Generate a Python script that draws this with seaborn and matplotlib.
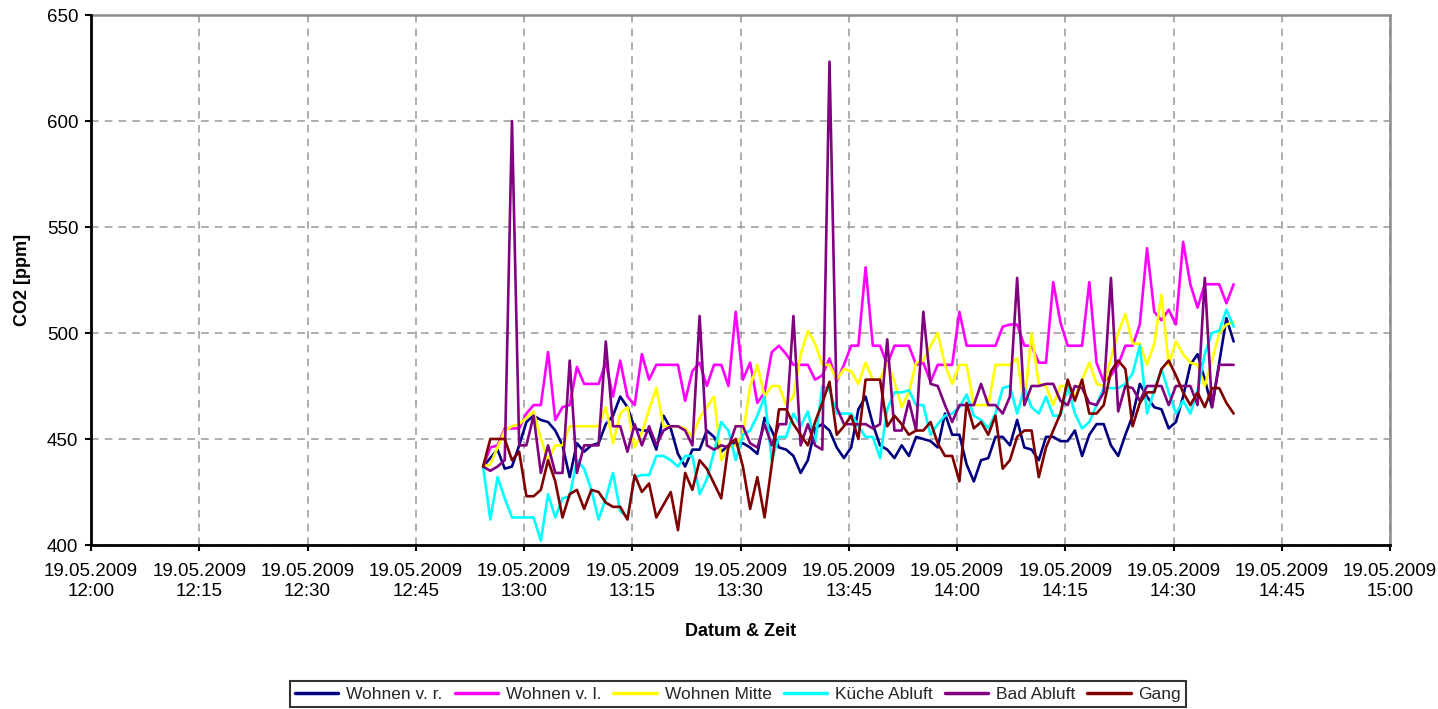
import numpy as np
import pandas as pd
import matplotlib
matplotlib.use("Agg")
import matplotlib.pyplot as plt
import matplotlib.dates as mdates
import seaborn as sns

# ---- data (one reading per minute, starting 19.05.2009 12:54:20) ----
start_time = "2009-05-19 12:54:20"

wohnen_vr = [437, 441, 445, 436, 437, 447, 458, 461, 459, 458, 454, 447, 432, 448, 444, 447, 448, 457, 461, 470,
             465, 455, 454, 454, 445, 461, 455, 443, 437, 445, 445, 454, 451, 444, 447, 448, 448, 446, 443, 460,
             454, 446, 445, 442, 434, 440, 455, 457, 454, 446, 441, 446, 464, 470, 457, 447, 445, 441, 447, 442,
             451, 450, 449, 446, 462, 452, 452, 438, 430, 440, 441, 451, 451, 447, 459, 446, 445, 440, 451, 451,
             449, 449, 454, 442, 452, 457, 457, 447, 442, 452, 461, 476, 470, 465, 464, 455, 458, 470, 485, 490,
             478, 465, 486, 507, 496]

wohnen_vl = [437, 446, 447, 455, 455, 455, 462, 466, 466, 491, 459, 465, 466, 484, 476, 476, 476, 486, 470, 487,
             470, 466, 490, 478, 485, 485, 485, 485, 468, 482, 486, 475, 485, 485, 475, 510, 478, 486, 467, 472,
             491, 494, 490, 485, 485, 485, 478, 480, 488, 477, 485, 494, 494, 531, 494, 494, 485, 494, 494, 494,
             485, 486, 477, 485, 485, 485, 510, 494, 494, 494, 494, 494, 503, 504, 504, 494, 494, 486, 486, 524,
             505, 494, 494, 494, 524, 486, 477, 480, 485, 494, 494, 504, 540, 510, 506, 511, 504, 543, 523, 512,
             523, 523, 523, 514, 523]

wohnen_mitte = [437, 438, 446, 454, 456, 457, 460, 463, 450, 440, 447, 447, 456, 456, 456, 456, 456, 465, 448, 462,
                465, 446, 453, 464, 474, 456, 456, 456, 455, 451, 460, 465, 470, 440, 446, 447, 452, 475, 485, 470,
                475, 475, 466, 470, 490, 501, 495, 485, 485, 478, 483, 482, 476, 486, 478, 478, 486, 477, 465, 472,
                486, 487, 494, 500, 485, 476, 485, 485, 466, 466, 466, 485, 485, 485, 488, 466, 500, 476, 475, 466,
                475, 475, 470, 478, 486, 476, 475, 488, 500, 509, 495, 495, 485, 495, 518, 485, 496, 490, 486, 485,
                475, 487, 500, 504, 505]

kueche_abluft = [437, 412, 432, 422, 413, 413, 413, 413, 402, 424, 413, 422, 423, 440, 436, 426, 412, 422, 434, 416,
                 413, 432, 433, 433, 442, 442, 440, 437, 442, 442, 424, 431, 444, 458, 454, 440, 452, 454, 461, 470,
                 440, 451, 451, 462, 456, 463, 448, 475, 473, 462, 462, 462, 456, 451, 451, 441, 464, 472, 472, 473,
                 466, 466, 452, 457, 461, 462, 465, 471, 461, 459, 455, 462, 474, 475, 462, 474, 465, 462, 470, 461,
                 461, 475, 462, 455, 458, 466, 474, 474, 474, 476, 481, 494, 462, 473, 483, 472, 462, 468, 462, 473,
                 490, 500, 501, 511, 503]

bad_abluft = [437, 435, 437, 440, 600, 447, 447, 461, 434, 447, 434, 434, 487, 434, 447, 447, 447, 496, 456, 456,
              444, 457, 447, 456, 447, 454, 456, 456, 454, 447, 508, 447, 445, 447, 446, 456, 456, 448, 446, 457,
              447, 457, 457, 508, 447, 457, 447, 445, 628, 465, 457, 457, 457, 457, 455, 457, 497, 454, 454, 468,
              454, 510, 476, 475, 466, 458, 466, 466, 466, 476, 466, 466, 462, 470, 526, 466, 475, 475, 476, 476,
              468, 466, 475, 474, 467, 466, 472, 526, 463, 475, 474, 468, 475, 475, 475, 466, 475, 475, 475, 466,
              526, 465, 485, 485, 485]

gang = [437, 450, 450, 450, 440, 444, 423, 423, 426, 440, 430, 413, 424, 426, 417, 426, 425, 420, 418, 418,
        412, 433, 425, 429, 413, 419, 425, 407, 434, 426, 440, 436, 429, 422, 447, 450, 437, 417, 432, 413,
        438, 464, 464, 457, 452, 447, 458, 467, 477, 452, 456, 461, 450, 478, 478, 478, 456, 461, 457, 452,
        454, 454, 458, 448, 442, 442, 430, 467, 455, 458, 452, 461, 436, 440, 451, 454, 454, 432, 446, 454,
        462, 478, 468, 478, 462, 462, 466, 482, 487, 483, 456, 467, 472, 472, 483, 487, 480, 472, 466, 472,
        465, 474, 474, 467, 462]

series_names = ["Wohnen v. r.", "Wohnen v. l.", "Wohnen Mitte", "Küche Abluft", "Bad Abluft", "Gang"]
series_values = [wohnen_vr, wohnen_vl, wohnen_mitte, kueche_abluft, bad_abluft, gang]
colors = ["#000080", "#FF00FF", "#FFFF00", "#00FFFF", "#800080", "#800000"]

y_ticks = [400, 450, 500, 550, 600, 650]
x_start = "2009-05-19 12:00"
x_end = "2009-05-19 15:00"

# ---- build long-form table ----
times = pd.date_range(start_time, periods=len(wohnen_vr), freq="1min")
frames = []
for name, vals in zip(series_names, series_values):
    frames.append(pd.DataFrame({"Zeit": times, "CO2": vals, "Messstelle": name}))
df = pd.concat(frames, ignore_index=True)

# ---- style ----
sns.set_theme(style="white")
plt.rcParams['font.family'] = ['Liberation Sans', 'DejaVu Sans']

fig = plt.figure(figsize=(14.38, 7.09), dpi=100)
ax = fig.add_axes([91 / 1438, 1 - 545 / 709, (1390 - 91) / 1438, (545 - 15) / 709])

sns.lineplot(data=df, x="Zeit", y="CO2", hue="Messstelle", hue_order=series_names,
             palette=colors, linewidth=1.9, estimator=None, ax=ax, legend=False)

ax.set_xlim(pd.Timestamp(x_start), pd.Timestamp(x_end))
ax.set_ylim(y_ticks[0], y_ticks[-1])
ax.set_yticks(y_ticks)
ax.xaxis.set_major_locator(mdates.MinuteLocator(byminute=[0, 15, 30, 45]))
ax.xaxis.set_major_formatter(mdates.DateFormatter("%d.%m.%Y\n%H:%M"))

ax.grid(True, which="major", linestyle=(0, (5, 4)), color="#999999", linewidth=1.1)
ax.set_axisbelow(True)

for side in ["left", "bottom"]:
    ax.spines[side].set_color("black")
    ax.spines[side].set_linewidth(2.0)
for side in ["top", "right"]:
    ax.spines[side].set_color("#8c8c8c")
    ax.spines[side].set_linewidth(1.8)
ax.spines["left"].set_zorder(5)
ax.spines["bottom"].set_zorder(5)

ax.tick_params(axis="both", which="major", direction="out", length=4, width=1.5,
               color="black", labelcolor="black", labelsize=13.5, left=True, bottom=True)
ax.tick_params(axis="x", pad=9)
ax.tick_params(axis="y", pad=5)
for lab in ax.get_xticklabels():
    lab.set_linespacing(1.25)

ax.set_xlabel("Datum & Zeit", fontsize=13, fontweight="bold", color="black")
ax.set_ylabel("CO2 [ppm]", fontsize=13, fontweight="bold", color="black")
ax.xaxis.set_label_coords(0.5, -0.148)
ax.yaxis.set_label_coords(-0.046, 0.5)

handles = ax.get_lines()[:len(series_names)]
leg = fig.legend(handles, series_names, loc="center", bbox_to_anchor=(738 / 1438, 1 - 694 / 709),
                 ncol=6, frameon=True, fancybox=False, edgecolor="black", fontsize=12.5,
                 handlelength=2.5, handletextpad=0.45, columnspacing=0.7, borderpad=0.3,
                 borderaxespad=0.0)
leg.get_frame().set_linewidth(1.5)
leg.get_frame().set_facecolor("white")
for line in leg.get_lines():
    line.set_linewidth(2.5)

fig.savefig("out.png", dpi=100, facecolor="white")
